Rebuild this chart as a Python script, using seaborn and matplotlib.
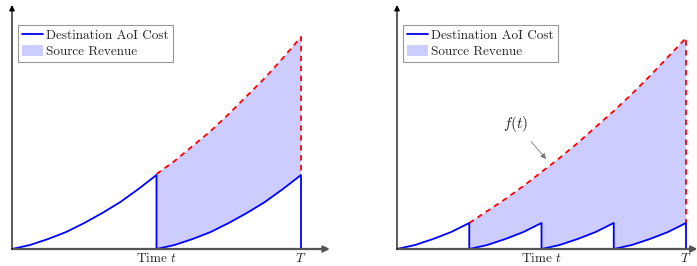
import matplotlib
matplotlib.use("Agg")
import matplotlib.pyplot as plt
import seaborn as sns
from matplotlib.lines import Line2D
from matplotlib.patches import Patch

# time normalised so that T = 1, heights in arbitrary cost units
# left panel: a single update at t = 0.5
left_seg_t = [0.0, 0.0625, 0.125, 0.1875, 0.25, 0.3125, 0.375, 0.4375, 0.5]
left_seg_cost = [0.0, 0.04, 0.10, 0.17, 0.26, 0.36, 0.47, 0.60, 0.74]
left_updates = [0.0, 0.5]
left_f_t = [0.5, 0.5625, 0.625, 0.6875, 0.75, 0.8125, 0.875, 0.9375, 1.0]
left_f = [0.75, 0.88, 1.03, 1.18, 1.35, 1.53, 1.71, 1.91, 2.12]

# right panel: three updates
right_seg_t = [0.0, 0.0625, 0.125, 0.1875, 0.25]
right_seg_cost = [0.0, 0.04, 0.10, 0.17, 0.26]
right_updates = [0.0, 0.25, 0.5, 0.75]
right_f_t = [0.25, 0.3125, 0.375, 0.4375, 0.5, 0.5625, 0.625,
             0.6875, 0.75, 0.8125, 0.875, 0.9375, 1.0]
right_f = [0.26, 0.38, 0.50, 0.63, 0.77, 0.91, 1.06,
           1.22, 1.38, 1.55, 1.73, 1.92, 2.11]

tick_pos = [0.5, 1.0]
tick_labels = ["Time $t$", "$T$"]
legend_labels = ["Destination AoI Cost", "Source Revenue"]

BLUE = "#0000ff"
RED = "#ff0000"
FILL = "#ccccff"

sns.set_theme(style="white")
plt.rcParams["font.family"] = ["cmr10"]
plt.rcParams["mathtext.fontset"] = "cm"
plt.rcParams["axes.formatter.use_mathtext"] = True


def sawtooth(seg_t, seg_cost, updates, start=None, drop_last=True):
    xs, ys = [], []
    for u in updates:
        if start is not None and u < start:
            continue
        xs += [u + s for s in seg_t]
        ys += list(seg_cost)
        xs.append(u + seg_t[-1])
        ys.append(0.0)
    if not drop_last:
        xs, ys = xs[:-1], ys[:-1]
    return xs, ys


def panel(ax, seg_t, seg_cost, updates, f_t, f, xmax):
    ax.set_xlim(0, xmax)
    ax.set_ylim(0, 2.44)

    # revenue area between the sawtooth and f(t)
    bx, by = sawtooth(seg_t, seg_cost, updates, start=f_t[0], drop_last=False)
    ax.fill(bx + f_t[::-1], by + f[::-1], color=FILL, lw=0, zorder=1)

    # f(t) and the drop at T
    rx = f_t + [f_t[-1]]
    ry = f + [seg_cost[-1]]
    sns.lineplot(x=rx, y=ry, ax=ax, sort=False, estimator=None,
                 color=RED, lw=1.3, zorder=2)
    ax.lines[-1].set_dashes([3, 2.5])

    sx, sy = sawtooth(seg_t, seg_cost, updates)
    sns.lineplot(x=sx, y=sy, ax=ax, sort=False, estimator=None,
                 color=BLUE, lw=1.3, zorder=3)

    # axes as arrows
    ax.annotate("", xy=(xmax, 0), xytext=(0, 0), annotation_clip=False,
                arrowprops=dict(arrowstyle="-|>", color="#555555", lw=1.6,
                                mutation_scale=9, shrinkA=0, shrinkB=0), zorder=4)
    ax.annotate("", xy=(0, 2.44), xytext=(0, 0), annotation_clip=False,
                arrowprops=dict(arrowstyle="-|>", color="black", lw=0.9,
                                mutation_scale=8, shrinkA=0, shrinkB=0), zorder=4)

    sns.despine(ax=ax, left=True, bottom=True)
    ax.set_yticks([])
    ax.set_xticks(tick_pos)
    ax.set_xticklabels(tick_labels, fontsize=9.5)
    ax.tick_params(axis="x", length=0, pad=2)
    ax.grid(False)
    ax.set_xlabel("")
    ax.set_ylabel("")

    ax_w_px = xmax * 289
    handles = [Line2D([], [], color=BLUE, lw=1.3),
               Patch(facecolor=FILL, edgecolor="none")]
    leg = ax.legend(handles=handles, labels=legend_labels, loc="upper left",
                    bbox_to_anchor=(6 / ax_w_px, 224 / 244), frameon=True,
                    fancybox=False, edgecolor="#999999", framealpha=1,
                    fontsize=9.5, handlelength=1.6, handleheight=0.9,
                    handletextpad=0.25, borderpad=0.3, labelspacing=0.2,
                    borderaxespad=0)
    leg.get_frame().set_linewidth(0.8)


fig = plt.figure(figsize=(6.97, 2.66), dpi=100)
ax1 = fig.add_axes([12 / 697, 17 / 266, 1.1 * 289 / 697, 244 / 266])
ax2 = fig.add_axes([397 / 697, 17 / 266, 1.04 * 289 / 697, 244 / 266])

panel(ax1, left_seg_t, left_seg_cost, left_updates, left_f_t, left_f, 1.1)
panel(ax2, right_seg_t, right_seg_cost, right_updates, right_f_t, right_f, 1.04)

ax2.annotate("$f(t)$", xy=(0.516, 0.90), xytext=(0.412, 1.25),
             ha="center", va="center", fontsize=11,
             arrowprops=dict(arrowstyle="-|>", color="#777777", lw=0.6,
                             mutation_scale=8, shrinkA=4, shrinkB=0))

fig.savefig("out.png", dpi=100)
